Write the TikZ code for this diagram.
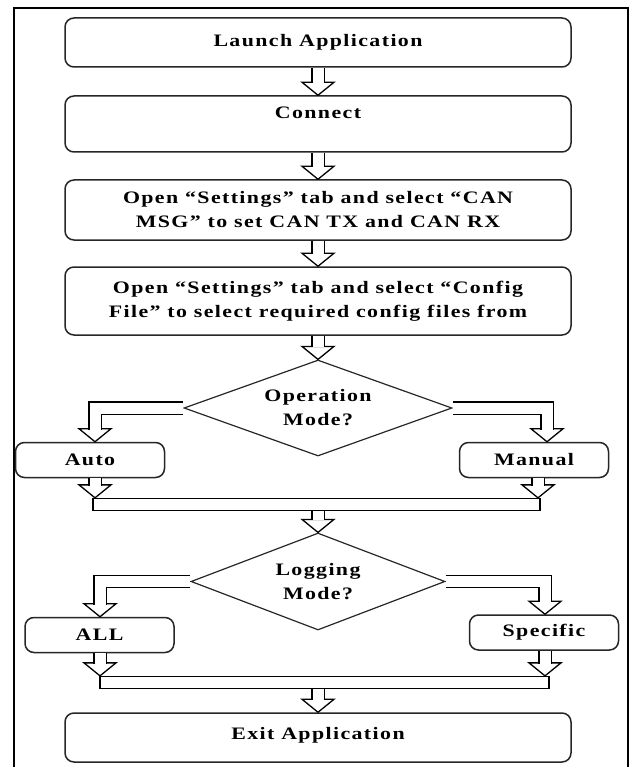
\documentclass[tikz,border=0pt]{standalone}
\usepackage{fontspec}
\setmainfont{Liberation Serif}[FakeStretch=1.25, LetterSpace=8]
\usetikzlibrary{shapes.geometric,calc}

% hollow arrow head, tip at #1
\newcommand{\fathead}[1]{%
  \draw[fathead] (#1) ++(-16,-13) -- (#1) -- ++(16,-13) -- cycle;}

\begin{document}
\begin{tikzpicture}[
    x=1pt, y=-1pt,
    line join=miter,
    every node/.style={font=\bfseries\fontsize{17.5}{24}\selectfont, align=center},
    stepbox/.style={draw=black!85, line width=1.5pt, rounded corners=9pt, inner sep=0pt},
    mainbox/.style={stepbox, minimum width=506pt},
    sidebox/.style={stepbox, minimum width=149pt, minimum height=35pt},
    decision/.style={diamond, draw=black!85, line width=1.2pt, aspect=2.8, inner sep=0pt},
    joinbar/.style={draw, line width=1.3pt, inner sep=0pt, minimum height=12pt},
    fatshaft/.style={draw=black, line width=1.3pt, double=white, double distance=11pt},
    fathead/.style={draw=black, fill=white, line width=1.3pt}
]
  \useasboundingbox (0,0) rectangle (632,767);

  % frame
  \draw[line width=1.6pt] (14,767) -- (14,8) -- (628,8) -- (628,767);

  % main steps
  \node[mainbox, minimum height=49pt] (launch) at (318,42.5) {Launch Application};
  \node[mainbox, minimum height=56pt, text depth=22pt] (connect) at (318,124) {Connect};
  \node[mainbox, minimum height=60pt] (canmsg) at (318,210)
    {Open “Settings” tab and select “CAN\\MSG" to set CAN TX and CAN RX};
  \node[mainbox, minimum height=68pt] (config) at (318,301)
    {Open “Settings” tab and select “Config\\File” to select required config files from};

  % operation mode
  \node[decision, minimum width=268pt, minimum height=96pt] (opmode) at (318,408) {Operation\\Mode?};
  \node[sidebox] (auto) at (90,460) {Auto};
  \node[sidebox] (manual) at (534,460) {Manual};
  \node[joinbar, minimum width=447pt] (join1) at (316.5,504.5) {};

  % logging mode
  \node[decision, minimum width=254pt, minimum height=97pt] (logmode) at (318,581.5) {Logging\\Mode?};
  \node[sidebox] (all) at (99.5,635) {ALL};
  \node[sidebox] (specific) at (544,632.5) {Specific};
  \node[joinbar, minimum width=449pt] (join2) at (324.5,682.5) {};

  \node[mainbox, minimum height=49pt, text depth=9pt] (exitapp) at (318,737.5) {Exit Application};

  % lanes of the side arrows
  \coordinate (autolane) at (95,0);
  \coordinate (manlane) at (547,0);
  \coordinate (mandown) at (538,0);
  \coordinate (alllane) at (100,0);
  \coordinate (speclane) at (545,0);

  % straight arrows (head first, shaft over its base)
  \foreach \a/\b in {launch/connect, connect/canmsg, canmsg/config, config/opmode}{
    \fathead{\b.north}
    \draw[fatshaft] (\a.south) -- ($(\b.north)+(0,-12)$);
  }
  \fathead{logmode.north}
  \draw[fatshaft] (logmode.north |- join1.south) -- ($(logmode.north)+(0,-12)$);
  \fathead{exitapp.north}
  \draw[fatshaft] (exitapp.north |- join2.south) -- ($(exitapp.north)+(0,-12)$);

  % branches
  \fathead{auto.north -| autolane}
  \draw[fatshaft] (opmode.west) -| ($(auto.north -| autolane)+(0,-12)$);
  \fathead{manual.north -| manlane}
  \draw[fatshaft] (opmode.east) -| ($(manual.north -| manlane)+(0,-12)$);
  \fathead{all.north -| alllane}
  \draw[fatshaft] (logmode.west) -| ($(all.north -| alllane)+(0,-12)$);
  \fathead{specific.north -| speclane}
  \draw[fatshaft] (logmode.east) -| ($(specific.north -| speclane)+(0,-12)$);

  % merging
  \fathead{join1.north -| autolane}
  \draw[fatshaft] (auto.south -| autolane) -- ($(join1.north -| autolane)+(0,-12)$);
  \fathead{join1.north -| mandown}
  \draw[fatshaft] (manual.south -| mandown) -- ($(join1.north -| mandown)+(0,-12)$);
  \fathead{join2.north -| alllane}
  \draw[fatshaft] (all.south -| alllane) -- ($(join2.north -| alllane)+(0,-12)$);
  \fathead{join2.north -| speclane}
  \draw[fatshaft] (specific.south -| speclane) -- ($(join2.north -| speclane)+(0,-12)$);
\end{tikzpicture}
\end{document}
